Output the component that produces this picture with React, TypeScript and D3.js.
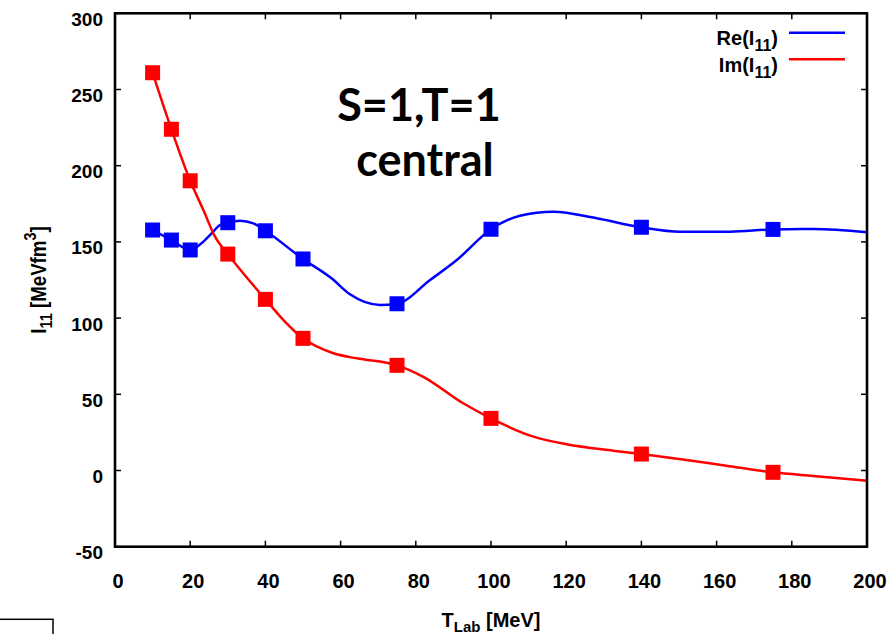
import React from "react";
import * as d3 from "d3";

// ---- data ----
const energies = [10, 15, 20, 30, 40, 50, 75, 100, 140, 175];
const reValues = [157.8, 151.2, 144.7, 162.6, 157.3, 138.8, 109.4, 158.3, 159.6, 158.2];
const imValues = [261, 223.9, 190.1, 142, 112.3, 86.7, 69, 34.2, 10.8, -1.2];

// fitted curves
const reCurveX = [10, 15, 20, 23, 25.7, 27.9, 30, 33.2, 36.8, 40, 50, 57.6, 62.5, 70.5, 75, 83.8, 90.9, 100, 107.7, 116.6, 128.1, 140, 150.3, 163.6, 175, 185.7, 200];
const reCurveY = [157.8, 151.2, 144.7, 149.1, 155.6, 161.1, 162.6, 163.9, 162.2, 157.3, 138.8, 126.1, 115.6, 108.6, 109.4, 125, 138.1, 158.3, 167.2, 169.8, 165.5, 159.6, 156.7, 156.7, 158.2, 158.4, 156.3];
const imCurveX = [10, 15, 20, 23.5, 26.6, 30, 40, 44.8, 50, 58.1, 64.3, 75, 82, 92.6, 100, 111.3, 120.1, 132.5, 140, 152, 162.6, 175, 185.7, 200];
const imCurveY = [261, 223.9, 190.1, 170.9, 153.4, 142, 112.3, 98.7, 86.7, 76.9, 73.6, 69, 61.5, 44.1, 34.2, 22.2, 17.2, 13, 10.8, 6.9, 3.1, -1.2, -3.6, -6.7];

const xTicks = [0, 20, 40, 60, 80, 100, 120, 140, 160, 180, 200];
const yTicks = [-50, 0, 50, 100, 150, 200, 250, 300];

const BLUE = "#0000ff";
const RED = "#ff0000";
const FONT = "'Liberation Sans', Arial, sans-serif";

export default function App() {
  const W = 891, H = 634;
  const left = 115, right = 867, top = 13.3, bottom = 546.7;
  const x = d3.scaleLinear().domain([0, 200]).range([left, right]);
  const y = d3.scaleLinear().domain([-50, 300]).range([bottom, top]);

  const line = d3
    .line<[number, number]>()
    .x((d) => x(d[0]))
    .y((d) => y(d[1]))
    .curve(d3.curveMonotoneX);

  const rePts: [number, number][] = reCurveX.map((v, i) => [v, reCurveY[i]]);
  const imPts: [number, number][] = imCurveX.map((v, i) => [v, imCurveY[i]]);
  const ms = 15;
  const tick = 6;

  return (
    <svg
      width={W}
      height={H}
      style={{ position: "absolute", left: 0, top: 0, background: "#fff" }}
      fontFamily={FONT}
    >
      <rect x={0} y={0} width={W} height={H} fill="#fff" />
      {/* curves */}
      <path d={line(rePts) || ""} fill="none" stroke={BLUE} strokeWidth={2.5} />
      <path d={line(imPts) || ""} fill="none" stroke={RED} strokeWidth={2.5} />
      {/* markers */}
      {energies.map((e, i) => (
        <rect key={"re" + i} x={x(e) - ms / 2} y={y(reValues[i]) - ms / 2} width={ms} height={ms} fill={BLUE} />
      ))}
      {energies.map((e, i) => (
        <rect key={"im" + i} x={x(e) - ms / 2} y={y(imValues[i]) - ms / 2} width={ms} height={ms} fill={RED} />
      ))}
      {/* ticks */}
      {xTicks.map((t) => (
        <g key={"xt" + t}>
          <line x1={x(t)} x2={x(t)} y1={bottom} y2={bottom - tick} stroke="#000" strokeWidth={1.5} />
          <line x1={x(t)} x2={x(t)} y1={top} y2={top + tick} stroke="#000" strokeWidth={1.5} />
          <text x={x(t) + 3} y={587.5} textAnchor="middle" fontSize={20} fontWeight="bold">
            {t}
          </text>
        </g>
      ))}
      {yTicks.map((t) => (
        <g key={"yt" + t}>
          <line x1={left} x2={left + tick} y1={y(t)} y2={y(t)} stroke="#000" strokeWidth={1.5} />
          <line x1={right} x2={right - tick} y1={y(t)} y2={y(t)} stroke="#000" strokeWidth={1.5} />
          <text x={103} y={y(t) + 12.5} textAnchor="end" fontSize={19} fontWeight="bold">
            {t}
          </text>
        </g>
      ))}
      {/* frame */}
      <rect x={left} y={top} width={right - left} height={bottom - top} fill="none" stroke="#000" strokeWidth={2.6} />

      {/* axis titles */}
      <text x={491} y={627} textAnchor="middle" fontSize={20} fontWeight="bold">
        T<tspan fontSize={15} dy={5}>Lab</tspan>
        <tspan dy={-5}> [MeV]</tspan>
      </text>
      <g transform="translate(46,280) rotate(-90) scale(0.85,1)">
        <text x={0} y={0} textAnchor="middle" fontSize={22} fontWeight="bold">
          I<tspan fontSize={17} dy={6}>11</tspan>
          <tspan dy={-6}> [MeVfm</tspan>
          <tspan fontSize={17} dy={-10}>3</tspan>
          <tspan dy={10}>]</tspan>
        </text>
      </g>

      {/* annotation */}
      <text x={419} y={121} textAnchor="middle" fontSize={45} fontWeight="bold" fontFamily="Lato, 'Open Sans', sans-serif">
        S=1,T=1
      </text>
      <text x={425} y={176} textAnchor="middle" fontSize={45} fontWeight="bold" fontFamily="Lato, 'Open Sans', sans-serif">
        central
      </text>

      {/* legend */}
      <text x={778} y={45} textAnchor="end" fontSize={20} fontWeight="bold">
        Re(I<tspan fontSize={16} dy={6}>11</tspan>
        <tspan dy={-6}>)</tspan>
      </text>
      <line x1={789} x2={845} y1={32.7} y2={32.7} stroke={BLUE} strokeWidth={2.5} />
      <text x={778} y={71.7} textAnchor="end" fontSize={20} fontWeight="bold">
        Im(I<tspan fontSize={16} dy={6}>11</tspan>
        <tspan dy={-6}>)</tspan>
      </text>
      <line x1={789} x2={845} y1={59.3} y2={59.3} stroke={RED} strokeWidth={2.5} />

      {/* small box at bottom-left */}
      <rect x={-2} y={619.3} width={55} height={30} fill="none" stroke="#000" strokeWidth={1.5} />
    </svg>
  );
}
